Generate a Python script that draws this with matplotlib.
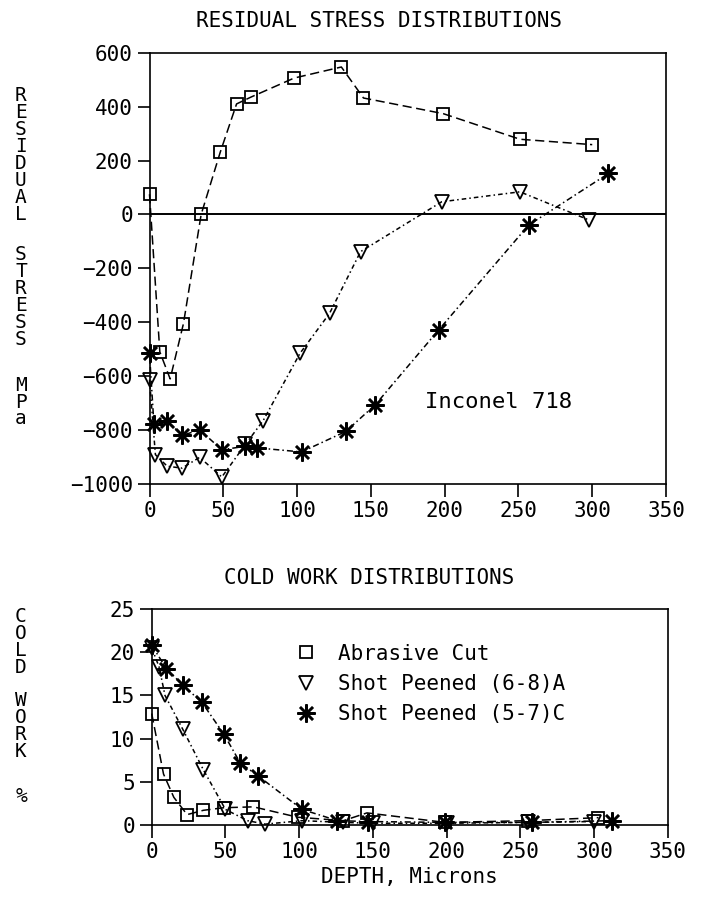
import matplotlib
matplotlib.use('Agg')
import matplotlib.pyplot as plt
from matplotlib.lines import Line2D

plt.rcParams['font.family'] = ['DejaVu Sans Mono', 'DejaVu Sans']

# residual stress (MPa) vs depth (microns)
depth_abr = [0, 7, 14, 23, 35, 48, 59, 69, 98, 130, 145, 199, 251, 300]
stress_abr = [75, -510, -610, -405, 0, 232, 410, 436, 506, 547, 432, 374, 279, 259]
depth_a = [0, 4, 12, 22, 34, 49, 65, 77, 102, 122, 143, 198, 251, 298]
stress_a = [-613, -891, -934, -941, -901, -974, -853, -765, -515, -367, -138, 47, 84, -21]
depth_c = [0, 3, 12, 22, 34, 49, 65, 73, 103, 133, 153, 196, 257, 311]
stress_c = [-515, -779, -765, -820, -799, -873, -860, -866, -881, -805, -706, -428, -39, 152]

# cold work (%) vs depth (microns)
cw_depth_abr = [0, 8, 15, 24, 35, 49, 69, 99, 130, 146, 199, 255, 303]
cw_abr = [12.9, 5.9, 3.2, 1.2, 1.7, 2.0, 2.1, 0.9, 0.5, 1.4, 0.3, 0.5, 0.85]
cw_depth_a = [0, 5, 9, 21, 35, 50, 65, 77, 102, 130, 150, 200, 255, 300]
cw_a = [20.5, 18.3, 15.0, 11.1, 6.4, 1.8, 0.5, 0.1, 0.5, 0.3, 0.2, 0.2, 0.3, 0.4]
cw_depth_c = [0, 10, 21, 34, 49, 60, 72, 102, 126, 147, 199, 258, 312]
cw_c = [20.8, 18.1, 16.2, 14.2, 10.5, 7.2, 5.7, 1.8, 0.5, 0.4, 0.3, 0.3, 0.5]

labels = ['Abrasive Cut', 'Shot Peened (6-8)A', 'Shot Peened (5-7)C']
x_ticks = [0, 50, 100, 150, 200, 250, 300, 350]
stress_ticks = [-1000, -800, -600, -400, -200, 0, 200, 400, 600]
cw_ticks = [0, 5, 10, 15, 20, 25]

styles = [
    dict(marker='s', ms=9, mfc='none', mec='black', mew=1.3, dashes=(6, 3)),
    dict(marker='v', ms=10, mfc='none', mec='black', mew=1.3, dashes=(3, 2, 1, 2)),
    dict(marker=(8, 2, 0), ms=13, mec='black', mew=1.8, dashes=(4, 2, 1, 2)),
]

fig = plt.figure(figsize=(7.16, 8.98), dpi=100)
ax1 = fig.add_axes([0.2088, 0.4610, 0.7214, 0.4803])
ax2 = fig.add_axes([0.2119, 0.0813, 0.7207, 0.2405])

for x, y, st in zip([depth_abr, depth_a, depth_c], [stress_abr, stress_a, stress_c], styles):
    ax1.plot(x, y, color='black', lw=1.1, clip_on=False, **st)
for x, y, st in zip([cw_depth_abr, cw_depth_a, cw_depth_c], [cw_abr, cw_a, cw_c], styles):
    ax2.plot(x, y, color='black', lw=1.1, clip_on=False, **st)

ax1.axhline(0, color='black', lw=1.4)
ax1.set_ylim(-1000, 600)
ax1.set_yticks(stress_ticks)
ax1.text(187, -694, 'Inconel 718', va='center', fontsize=16)

ax2.set_ylim(0, 25)
ax2.set_yticks(cw_ticks)

for ax in (ax1, ax2):
    ax.set_xlim(0, 350)
    ax.set_xticks(x_ticks)
    ax.tick_params(direction='out', length=9, width=1.2, labelsize=15, pad=3)
    for s in ax.spines.values():
        s.set_linewidth(1.2)

handles = [Line2D([], [], ls='none', color='black', **{k: v for k, v in st.items() if k != 'dashes'})
           for st in styles]
ax2.legend(handles, labels, loc='upper left', bbox_to_anchor=(0.275, 0.84), frameon=False,
           fontsize=15, handlelength=1.2, handletextpad=0.94, labelspacing=0.5,
           borderpad=0, borderaxespad=0)

fig.text(379 / 716, 1 - 21 / 898, 'RESIDUAL STRESS DISTRIBUTIONS', ha='center', va='center', fontsize=15)
fig.text(369 / 716, 1 - 578 / 898, 'COLD WORK DISTRIBUTIONS', ha='center', va='center', fontsize=15)
fig.text(409 / 716, 1 - 877 / 898, 'DEPTH, Microns', ha='center', va='center', fontsize=15)

# stacked y labels
ylab = dict(ha='center', va='center', fontsize=14, linespacing=0.86)
fig.text(21 / 716, 1 - 155 / 898, '\n'.join('RESIDUAL'), **ylab)
fig.text(21 / 716, 1 - 297 / 898, '\n'.join('STRESS'), **ylab)
fig.text(21 / 716, 1 - 402 / 898, '\n'.join('MPa'), **ylab)
fig.text(21 / 716, 1 - 642 / 898, '\n'.join('COLD'), **ylab)
fig.text(21 / 716, 1 - 726 / 898, '\n'.join('WORK'), **ylab)
fig.text(21 / 716, 1 - 797 / 898, '%', **ylab)

fig.savefig('out.png', dpi=100)
